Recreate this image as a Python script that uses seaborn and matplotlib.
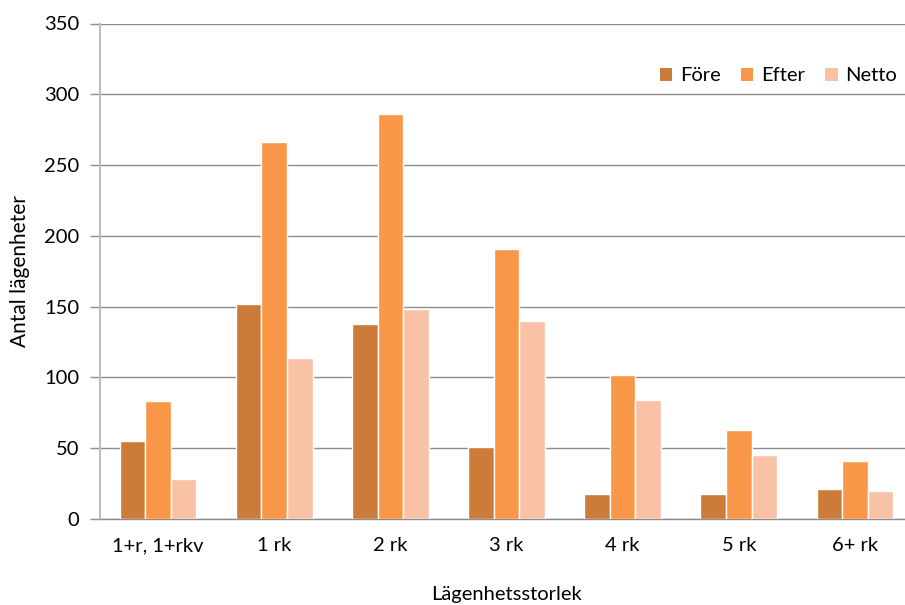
import matplotlib
matplotlib.use("Agg")
import matplotlib.pyplot as plt
from matplotlib.patches import Patch
import pandas as pd
import seaborn as sns

# ── Data ────────────────────────────────────────────────────────────────
categories = ["1+r, 1+rkv", "1 rk", "2 rk", "3 rk", "4 rk", "5 rk", "6+ rk"]
series = ["Före", "Efter", "Netto"]
fore = [55, 152, 138, 51, 18, 18, 21]
efter = [83, 266, 286, 191, 102, 63, 41]
netto = [28, 114, 148, 140, 84, 45, 20]
yticks = [0, 50, 100, 150, 200, 250, 300, 350]

colors = ["#CC7B38", "#F79747", "#F9C2A7"]

df = pd.DataFrame({
    "Storlek": categories * 3,
    "Serie": [s for s in series for _ in categories],
    "Antal": fore + efter + netto,
})

# ── Figure ──────────────────────────────────────────────────────────────
sns.set_style("white")
plt.rcParams["font.family"] = ["Lato", "DejaVu Sans"]
plt.rcParams["text.color"] = "black"

fig = plt.figure(figsize=(9.05, 6.05), dpi=100)
ax = fig.add_axes([100 / 905, 86 / 605, 813 / 905, 495.5 / 605])

sns.barplot(data=df, x="Storlek", y="Antal", hue="Serie", order=categories,
            hue_order=series, palette=colors, width=0.66, saturation=1,
            edgecolor="white", linewidth=1, ax=ax, zorder=3)

ax.set_xlim(-0.5, len(categories) - 0.5)
ax.set_ylim(0, 350)
ax.set_yticks(yticks)
ax.yaxis.grid(True, color="#8C8C8C", linewidth=1, zorder=0)
ax.set_axisbelow(True)

for side in ["top", "right"]:
    ax.spines[side].set_visible(False)
ax.spines["left"].set_color("#BDBDBD")
ax.spines["left"].set_linewidth(1.5)
ax.spines["bottom"].set_color("#8C8C8C")
ax.spines["bottom"].set_linewidth(1)

# tick marks between categories, like Excel
ax.set_xticks([i - 0.5 for i in range(len(categories))], minor=True)
ax.tick_params(axis="x", which="major", length=0, pad=13, labelsize=14.5,
               labelcolor="black")
ax.tick_params(axis="x", which="minor", length=7, color="#8C8C8C", width=1.2)
ax.tick_params(axis="y", length=7, color="#8C8C8C", width=1, pad=8,
               labelsize=14.5, left=True, labelcolor="black")

ax.set_xlabel("Lägenhetsstorlek", fontsize=14.5, labelpad=23, color="black")
ax.set_ylabel("Antal lägenheter", fontsize=15, labelpad=10, color="black")

handles = [Patch(facecolor=c, edgecolor="none") for c in colors]
ax.legend(handles, series, loc="upper right", bbox_to_anchor=(1.003, 0.948),
          ncol=3, frameon=False, fontsize=14.5, handlelength=0.6,
          handleheight=0.6, handletextpad=0.4, columnspacing=1.0)

fig.savefig("out.png", dpi=100)
